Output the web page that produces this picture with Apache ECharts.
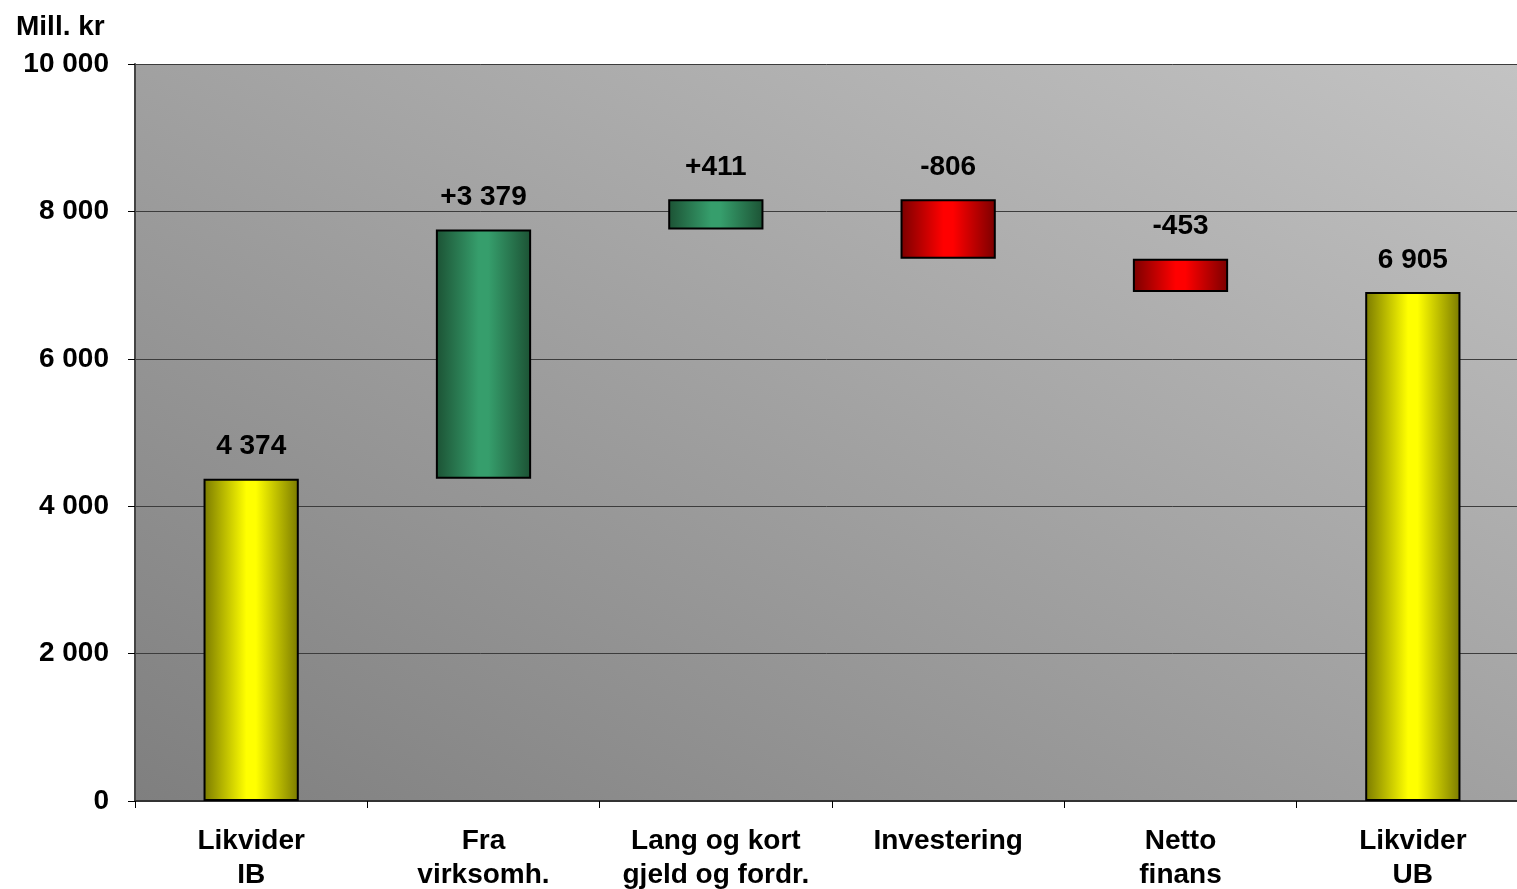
<!DOCTYPE html>
<html>
<head>
<meta charset="utf-8">
<script src="https://cdn.jsdelivr.net/npm/echarts@6/dist/echarts.min.js"></script>
<style>
html,body{margin:0;padding:0;background:#fff;overflow:hidden;}
#c{width:1517px;height:889px;}
</style>
</head>
<body>
<div id="c"></div>
<script>
var categories = ["Likvider\nIB", "Fra\nvirksomh.", "Lang og kort\ngjeld og fordr.", "Investering", "Netto\nfinans", "Likvider\nUB"];
var steps = [4374, 3379, 411, -806, -453, 6905];
var isTotal = [true, false, false, false, false, true];
var valueLabels = ["4 374", "+3 379", "+411", "-806", "-453", "6 905"];
var yTicks = [0, 2000, 4000, 6000, 8000, 10000];

function grad(dark, bright) {
  return {type:'linear', x:0, y:0, x2:1, y2:0, colorStops:[
    {offset:0, color:dark},{offset:0.45, color:bright},{offset:0.55, color:bright},{offset:1, color:dark}]};
}
var yellow = grad('#7a7a00', '#ffff00');
var green = grad('#1c5234', '#369e6c');
var red = grad('#7a0000', '#ff0000');

var base = [], vis = [], run = 0;
for (var i = 0; i < steps.length; i++) {
  var s = steps[i], col;
  if (isTotal[i]) { base.push(0); vis.push(s); run = s; col = yellow; }
  else if (s >= 0) { base.push(run); vis.push(s); run += s; col = green; }
  else { run += s; base.push(run); vis.push(-s); col = red; }
  vis[i] = {value: vis[i], itemStyle: {color: col}};
}

var FF = 'Liberation Sans, Arial, sans-serif';
var chart = echarts.init(document.getElementById('c'));
chart.setOption({
  animation: false,
  textStyle: {fontFamily: FF},
  title: {text: 'Mill. kr', left: 11, top: 8, textStyle: {fontSize: 28, fontWeight: 'bold', color: '#000', fontFamily: FF}},
  grid: {left: 135, right: -12, top: 64, bottom: 88, show: true, borderWidth: 0,
    outerBoundsMode: 'none', containLabel: false,
    backgroundColor: {type:'linear', global:true, x:135, y:801, x2:747, y2:-346,
      colorStops:[{offset:0, color:'#7f7f7f'},{offset:1, color:'#c3c3c3'}]}},
  xAxis: {
    type: 'category', data: categories, boundaryGap: true,
    axisLine: {lineStyle: {color: '#333', width: 2}},
    axisTick: {show: true, length: 7, interval: 0, lineStyle: {color: '#000'}},
    axisLabel: {interval: 0, margin: 23, fontSize: 28, fontWeight: 'bold', color: '#000', lineHeight: 34,
      fontFamily: FF}
  },
  yAxis: {
    type: 'value', min: yTicks[0], max: yTicks[yTicks.length-1], interval: 2000,
    axisLine: {show: true, lineStyle: {color: '#444', width: 2}},
    axisTick: {show: true, length: 7, lineStyle: {color: '#000'}},
    splitLine: {lineStyle: {color: '#3c3c3c', width: 1}},
    axisLabel: {margin: 26, fontSize: 28, fontWeight: 'bold', color: '#000', fontFamily: FF,
      formatter: function (v) { return String(v).replace(/\B(?=(\d{3})+(?!\d))/g, ' '); }}
  },
  series: [
    {type: 'bar', stack: 'w', data: base, barWidth: '41%', itemStyle: {color: 'transparent'}, silent: true},
    {type: 'bar', stack: 'w', data: vis, barWidth: '41%',
      itemStyle: {borderColor: '#000', borderWidth: 2},
      label: {show: true, position: 'top', distance: 18, fontSize: 28, fontWeight: 'bold', color: '#000',
        fontFamily: FF,
        formatter: function (p) { return valueLabels[p.dataIndex]; }}}
  ]
});
</script>
</body>
</html>
